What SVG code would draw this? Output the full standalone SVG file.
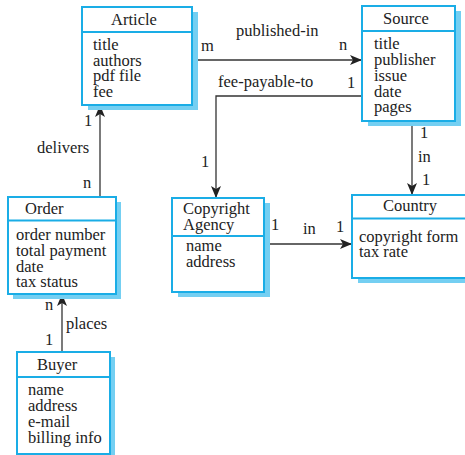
<svg xmlns="http://www.w3.org/2000/svg" width="465" height="455" viewBox="0 0 465 455">
  <style>
    .box { fill: #ffffff; stroke: #1aade6; stroke-width: 2; }
    .shadow { fill: #74cff2; }
    .div { stroke: #1aade6; stroke-width: 2; }
    text { font-family: "Liberation Serif", "Times New Roman", serif; font-size: 16.5px; fill: #222222; }
    .title { text-anchor: middle; }
    .conn { fill: none; stroke: #333333; stroke-width: 1.3; marker-end: url(#arrow); }
  </style>
  <defs>
    <marker id="arrow" viewBox="0 0 12 10" refX="12" refY="5" markerWidth="12" markerHeight="10" markerUnits="userSpaceOnUse" orient="auto">
      <path d="M0,0 L12,5 L0,10 L3,5 Z" fill="#222222"/>
    </marker>
  </defs>

  <rect width="465" height="455" fill="#ffffff"/>

  <!-- connectors -->
  <g id="connectors">
    <path class="conn" d="M192,60 H362"/>
    <path class="conn" d="M362,96 H216 V198"/>
    <path class="conn" d="M100,197 V105"/>
    <path class="conn" d="M62,352 V294"/>
    <path class="conn" d="M412,121 V195"/>
    <path class="conn" d="M264,244 H352"/>

    <text x="201" y="51">m</text>
    <text x="236" y="36">published-in</text>
    <text x="339" y="50">n</text>
    <text x="218" y="87">fee-payable-to</text>
    <text x="347" y="88">1</text>
    <text x="201" y="167">1</text>
    <text x="84" y="126">1</text>
    <text x="37" y="153">delivers</text>
    <text x="83" y="188">n</text>
    <text x="420" y="138">1</text>
    <text x="418" y="162">in</text>
    <text x="422" y="185">1</text>
    <text x="45" y="310">n</text>
    <text x="66" y="329">places</text>
    <text x="45" y="345">1</text>
    <text x="271" y="230">1</text>
    <text x="303" y="234">in</text>
    <text x="336" y="232">1</text>
  </g>

  <!-- Article -->
  <g id="article">
    <rect class="shadow" x="88" y="12" width="110" height="98"/>
    <rect class="box" x="82" y="7" width="110" height="98"/>
    <line class="div" x1="82" y1="32" x2="192" y2="32"/>
    <text class="title" x="134" y="25">Article</text>
    <text x="93" y="50">title</text>
    <text x="93" y="65.5">authors</text>
    <text x="93" y="81">pdf file</text>
    <text x="93" y="96.5">fee</text>
  </g>

  <!-- Source -->
  <g id="source">
    <rect class="shadow" x="368" y="11" width="93" height="115"/>
    <rect class="box" x="362" y="6" width="93" height="115"/>
    <line class="div" x1="362" y1="31" x2="455" y2="31"/>
    <text class="title" x="406" y="24">Source</text>
    <text x="374" y="49">title</text>
    <text x="374" y="64.5">publisher</text>
    <text x="374" y="80.5">issue</text>
    <text x="374" y="96.5">date</text>
    <text x="374" y="112">pages</text>
  </g>

  <!-- Order -->
  <g id="order">
    <rect class="shadow" x="13" y="202" width="108" height="97"/>
    <rect class="box" x="8" y="197" width="108" height="97"/>
    <line class="div" x1="8" y1="220.5" x2="116" y2="220.5"/>
    <text x="25" y="214">Order</text>
    <text x="16" y="240">order number</text>
    <text x="16" y="256">total payment</text>
    <text x="16" y="271.5">date</text>
    <text x="16" y="287">tax status</text>
  </g>

  <!-- Buyer -->
  <g id="buyer">
    <rect class="shadow" x="22" y="357" width="93" height="100"/>
    <rect class="box" x="17" y="352" width="93" height="102"/>
    <line class="div" x1="17" y1="377" x2="110" y2="377"/>
    <text x="37" y="370">Buyer</text>
    <text x="28" y="395">name</text>
    <text x="28" y="411">address</text>
    <text x="28" y="427">e-mail</text>
    <text x="28" y="442.5">billing info</text>
  </g>

  <!-- Copyright Agency -->
  <g id="copyright-agency">
    <rect class="shadow" x="178" y="203" width="92" height="94"/>
    <rect class="box" x="172" y="198" width="92" height="94"/>
    <line class="div" x1="172" y1="236" x2="264" y2="236"/>
    <text x="183" y="214">Copyright</text>
    <text x="183" y="230">Agency</text>
    <text x="186" y="251">name</text>
    <text x="186" y="267">address</text>
  </g>

  <!-- Country -->
  <g id="country">
    <rect class="shadow" x="358" y="200" width="120" height="83"/>
    <rect class="box" x="352" y="195" width="120" height="83"/>
    <line class="div" x1="352" y1="218.5" x2="472" y2="218.5"/>
    <text class="title" x="410" y="211">Country</text>
    <text x="359" y="241.5">copyright form</text>
    <text x="359" y="257">tax rate</text>
  </g>
</svg>
